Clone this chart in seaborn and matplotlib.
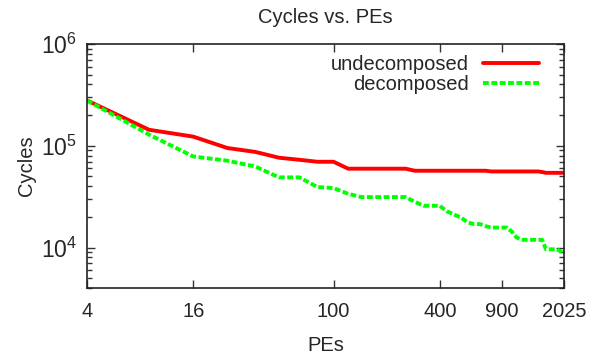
import numpy as np
import pandas as pd
import matplotlib
matplotlib.use("Agg")
import matplotlib.pyplot as plt
import matplotlib.ticker as mticker
import seaborn as sns

# ---- data ----
pes = [4, 9, 16, 25, 36, 49, 64, 81, 100, 121, 144, 169, 196, 225, 256, 289,
       324, 361, 400, 441, 484, 529, 576, 625, 676, 729, 784, 841, 900, 961,
       1024, 1089, 1156, 1225, 1296, 1369, 1444, 1521, 1600, 1681, 1764, 1849,
       1936, 2025]
undecomposed = [279000, 143500, 123000, 95000, 87000, 76300, 72800, 69600, 69600,
                59500, 59500, 59500, 59500, 59500, 59500, 56800,
                56800, 56800, 56800, 56800, 56800, 56800, 56800, 56800, 56800, 56800,
                55900, 55900, 55900, 55900, 55900, 55900, 55900, 55900, 55900, 55900, 55900,
                55200, 54200, 54200, 54200, 54200, 54200, 54200]
decomposed = [279000, 128500, 78500, 71300, 62500, 48900, 48900, 39300, 38400,
              33700, 31300, 31300, 31300, 31300, 31300, 28100,
              25700, 25700, 25700, 22600, 21000, 19700, 17600, 17000, 17000, 16200,
              15700, 15700, 15700, 15700, 14300, 12600,
              11900, 11900, 11900, 11900, 11900, 11900,
              9600, 9600, 9600, 9600, 9200, 8700]
series_names = ["undecomposed", "decomposed"]
xtick_vals = [4, 16, 100, 400, 900, 2025]
xtick_labels = ["4", "16", "100", "400", "900", "2025"]
title = "Cycles vs. PEs"
xlabel = "PEs"
ylabel = "Cycles"

sns.set_style("ticks")
plt.rcParams["font.family"] = ["Liberation Sans", "DejaVu Sans"]
plt.rcParams["mathtext.fontset"] = "custom"
plt.rcParams["mathtext.rm"] = "Liberation Sans"
plt.rcParams["mathtext.it"] = "Liberation Sans"
plt.rcParams["mathtext.default"] = "regular"

FS = 14.5

fig = plt.figure(figsize=(6.12, 3.58), dpi=100)
ax = fig.add_axes([87 / 612, 1 - 288 / 358, 477 / 612, 244 / 358])

sns.lineplot(x=pes, y=undecomposed, ax=ax, color="#ff0000", linewidth=2.8,
             label=series_names[0], solid_joinstyle="miter")
sns.lineplot(x=pes, y=decomposed, ax=ax, color="#00ff00", linewidth=2.8,
             linestyle=(0, (1.5, 0.65)), label=series_names[1])

ax.set_xscale("log")
ax.set_yscale("log")
ax.set_xlim(4, 2025)
ax.set_ylim(4000, 1e6)

ax.xaxis.set_major_locator(mticker.FixedLocator(xtick_vals))
ax.xaxis.set_major_formatter(mticker.FixedFormatter(xtick_labels))
ax.xaxis.set_minor_locator(mticker.NullLocator())
ax.yaxis.set_major_locator(mticker.LogLocator(base=10, numticks=10))
ax.yaxis.set_major_formatter(mticker.LogFormatterMathtext())
ax.yaxis.set_minor_locator(mticker.LogLocator(base=10, subs=np.arange(2, 10), numticks=50))
ax.yaxis.set_minor_formatter(mticker.NullFormatter())

ax.tick_params(axis="both", which="both", direction="in", top=True, right=True,
               color="#333333", width=1.0)
ax.tick_params(axis="both", which="major", length=6, labelsize=FS, pad=10)
ax.tick_params(axis="y", which="major", labelsize=FS + 2, pad=7)
ax.tick_params(axis="both", which="minor", length=3.3)
for sp in ax.spines.values():
    sp.set_visible(True)
    sp.set_linewidth(1.2)
    sp.set_color("#222222")

ax.set_title(title, fontsize=FS, pad=15)
ax.set_xlabel(xlabel, fontsize=FS, labelpad=11)
ax.set_ylabel(ylabel, fontsize=FS, labelpad=4)

handles, labels = ax.get_legend_handles_labels()
ax.legend(handles, labels, loc="upper right", bbox_to_anchor=(0.948, 0.955),
          frameon=False, fontsize=FS, markerfirst=False, handlelength=2.8,
          handletextpad=0.7, labelspacing=0.05, borderpad=0, borderaxespad=0)

fig.savefig("out.png", dpi=100)
